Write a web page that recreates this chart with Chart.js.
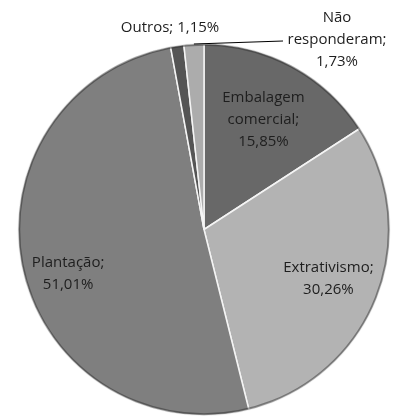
<!DOCTYPE html>
<html>
<head>
<meta charset="utf-8">
<script src="https://cdn.jsdelivr.net/npm/chart.js@4"></script>
<style>
  html, body { margin: 0; padding: 0; background: #fff; }
  #wrap { width: 394px; height: 418px; }
</style>
</head>
<body>
<div id="wrap"><canvas id="pie" width="394" height="418"></canvas></div>
<script>
// Categories (clockwise from 12 o'clock)
var categories = ["Embalagem comercial", "Extrativismo", "Plantação", "Outros", "Não responderam"];
// Percentages
var percent = [15.85, 30.26, 51.01, 1.15, 1.73];
// Label text as printed on the chart
var labelLines = [
  ["Embalagem", "comercial;", "15,85%"],
  ["Extrativismo;", "30,26%"],
  ["Plantação;", "51,01%"],
  ["Outros; 1,15%"],
  ["Não", "responderam;", "1,73%"]
];
var colors = ["#686868", "#b3b3b3", "#7f7f7f", "#555555", "#acacac"];

// where each label sits: inside -> fraction of radius + angle tweak (deg), outside -> fixed spot
var placement = [
  { r: 0.67, da: 0 },
  { r: 0.72, da: 0 },
  { r: 0.77, da: -6 },
  { x: 170, y: 28 },
  { x: 337, y: 40, leader: [283, 41] }
];

// darker rim like the bevel in the original
var rimPlugin = {
  id: 'rim',
  afterDatasetsDraw: function (chart) {
    var c = chart.ctx;
    var arc = chart.getDatasetMeta(0).data[0];
    c.save();
    c.beginPath();
    c.arc(arc.x, arc.y, arc.outerRadius - 1, 0, Math.PI * 2);
    c.strokeStyle = 'rgba(40,40,40,0.45)';
    c.lineWidth = 2;
    c.stroke();
    c.restore();
  }
};

var labelPlugin = {
  id: 'pieLabels',
  afterDatasetsDraw: function (chart) {
    var c = chart.ctx;
    var arcs = chart.getDatasetMeta(0).data;
    c.save();
    c.font = '15px "Open Sans", sans-serif';
    c.fillStyle = '#1e1e1e';
    c.textAlign = 'center';
    c.textBaseline = 'middle';
    var lh = 22;
    arcs.forEach(function (arc, i) {
      var p = placement[i];
      var mid = (arc.startAngle + arc.endAngle) / 2;
      var x, y;
      if (p.x === undefined) {
        var a = mid + p.da * Math.PI / 180;
        x = arc.x + Math.cos(a) * arc.outerRadius * p.r;
        y = arc.y + Math.sin(a) * arc.outerRadius * p.r;
      } else {
        x = p.x; y = p.y;
      }
      if (p.leader) {
        c.beginPath();
        c.strokeStyle = '#000';
        c.lineWidth = 1.2;
        c.moveTo(arc.x + Math.cos(mid) * arc.outerRadius, arc.y + Math.sin(mid) * arc.outerRadius);
        c.lineTo(p.leader[0], p.leader[1]);
        c.stroke();
      }
      var lines = labelLines[i];
      var y0 = y - (lines.length - 1) * lh / 2;
      lines.forEach(function (t, k) {
        c.fillText(t, x, y0 + k * lh);
      });
    });
    c.restore();
  }
};

new Chart(document.getElementById("pie"), {
  type: 'pie',
  data: {
    labels: categories,
    datasets: [{
      data: percent,
      backgroundColor: colors,
      borderColor: "#f4f4f4",
      borderWidth: 1.5
    }]
  },
  options: {
    responsive: false,
    animation: false,
    layout: { padding: { top: 43, bottom: 2, left: 17, right: 3 } },
    plugins: {
      legend: { display: false },
      tooltip: { enabled: false }
    }
  },
  plugins: [rimPlugin, labelPlugin]
});
</script>
</body>
</html>
